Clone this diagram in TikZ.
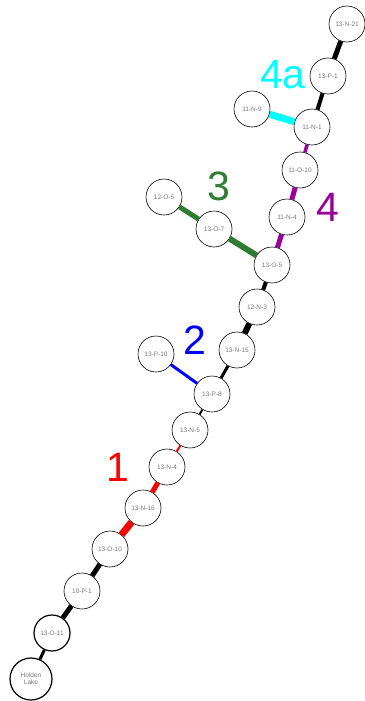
\documentclass[tikz,border=0pt]{standalone}
\usepackage{fontspec}
\setmainfont{Liberation Sans}
\definecolor{trailgreen}{RGB}{46,125,50}
\definecolor{trailpurple}{RGB}{153,0,153}
\definecolor{trailcyan}{RGB}{0,255,255}
\definecolor{trailred}{RGB}{255,0,0}
\definecolor{trailblue}{RGB}{0,0,255}
\definecolor{sitetext}{RGB}{120,120,120}

\begin{document}
\begin{tikzpicture}[
    x=1pt, y=-1pt,
    site/.style={circle, draw, line width=0.6pt, fill=white, minimum size=36pt, inner sep=0pt, font=\fontsize{6.5}{7}\selectfont, text=sitetext},
    bigsite/.style={site, line width=1.2pt},
    seg/.style={line width=#1},
    tag/.style={font=\fontsize{41}{41}\selectfont}
]
\useasboundingbox (0,0) rectangle (364,701);

% Main route
\node[site] (n21) at (347, 24) {13-N-21};
\node[site] (p1) at (328, 76) {13-P-1};
\node[site] (n1) at (312, 127) {11-N-1};
\node[site] (o10a) at (300, 170) {11-O-10};
\node[site] (n4a) at (287, 217) {11-N-4};
\node[site] (o5) at (272, 265) {13-O-5};
\node[site] (n3) at (257, 307) {12-N-3};
\node[site] (n15) at (237, 350) {13-N-15};
\node[site] (p8) at (212, 394) {13-P-8};
\node[site] (n5) at (190, 430) {13-N-5};
\node[site] (n4) at (167, 467) {13-N-4};
\node[site] (n16) at (143, 508) {13-N-16};
\node[site] (o10) at (110, 549) {13-O-10};
\node[site] (p1b) at (82, 591) {10-P-1};
\node[bigsite] (o11) at (52, 633) {13-O-11};
\node[bigsite, minimum size=42pt, align=center] (lake) at (31, 679) {Holden\\Lake};

% Side branches
\node[site] (n9) at (252, 109) {11-N-9};
\node[site] (o7) at (214, 229) {13-O-7};
\node[site] (o5b) at (164, 197) {12-O-5};
\node[site] (p10) at (156, 354) {13-P-10};

% Connections
\draw[seg=5pt] (n21) -- (p1);
\draw[seg=4pt] (p1) -- (n1);
\draw[seg=7pt, trailcyan] (n9) -- (n1);
\draw[seg=3.5pt, trailpurple] (n1) -- (o10a);
\draw[seg=5pt, trailpurple] (o10a) -- (n4a);
\draw[seg=5pt, trailpurple] (n4a) -- (o5);
\draw[seg=5pt, trailgreen] (o5b) -- (o7);
\draw[seg=6pt, trailgreen] (o7) -- (o5);
\draw[seg=4pt] (o5) -- (n3);
\draw[seg=6pt] (n3) -- (n15);
\draw[seg=3pt] (n15) -- (p8);
\draw[seg=3pt, trailblue] (p10) -- (p8);
\draw[seg=2pt] (p8) -- (n5);
\draw[seg=2pt, trailred] (n5) -- (n4);
\draw[seg=5pt, trailred] (n4) -- (n16);
\draw[seg=7pt, trailred] (n16) -- (o10);
\draw[seg=5pt] (o10) -- (p1b);
\draw[seg=5pt] (p1b) -- (o11);
\draw[seg=3pt] (o11) -- (lake);

% Route labels
\node[tag, text=trailcyan] (t4a) at (283, 75) {4a};
\node[tag, text=trailpurple] (t4) at (328, 207) {4};
\node[tag, text=trailgreen] (t3) at (219, 186) {3};
\node[tag, text=trailblue] (t2) at (195, 340) {2};
\node[tag, text=trailred] (t1) at (118, 467) {1};

\end{tikzpicture}
\end{document}
